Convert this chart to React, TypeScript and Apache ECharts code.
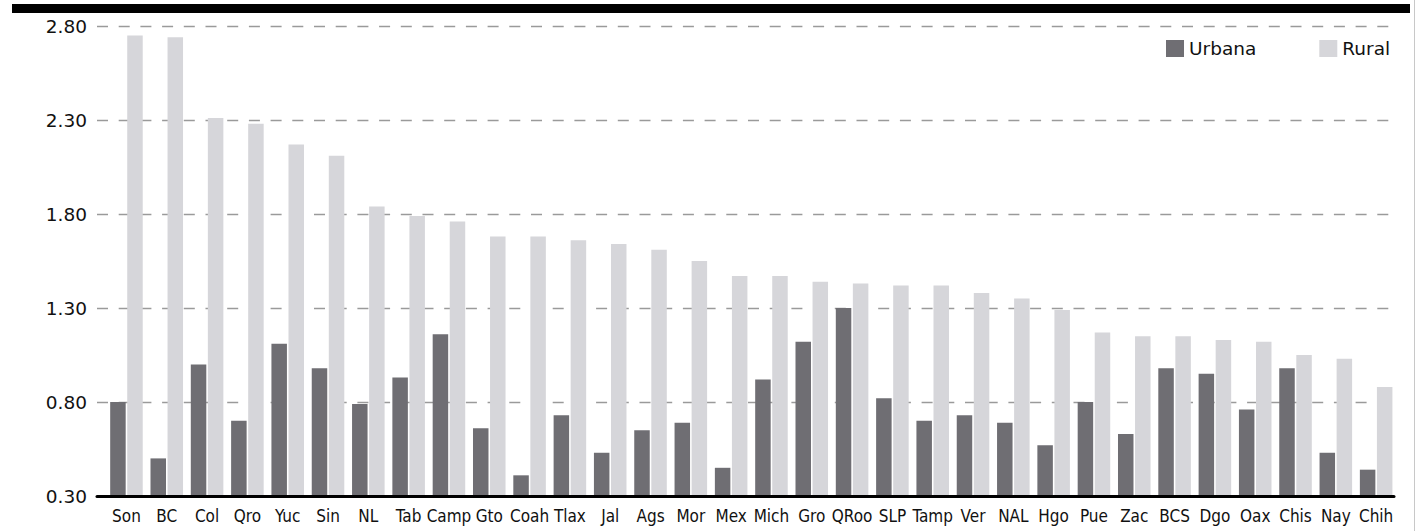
import React, { useEffect, useRef } from "react";
import * as echarts from "echarts";

const categories = ["Son","BC","Col","Qro","Yuc","Sin","NL","Tab","Camp","Gto","Coah","Tlax","Jal","Ags","Mor","Mex","Mich","Gro","QRoo","SLP","Tamp","Ver","NAL","Hgo","Pue","Zac","BCS","Dgo","Oax","Chis","Nay","Chih"];
const urbana = [0.80,0.50,1.00,0.70,1.11,0.98,0.79,0.93,1.16,0.66,0.41,0.73,0.53,0.65,0.69,0.45,0.92,1.12,1.30,0.82,0.70,0.73,0.69,0.57,0.80,0.63,0.98,0.95,0.76,0.98,0.53,0.44];
const rural = [2.75,2.74,2.31,2.28,2.17,2.11,1.84,1.79,1.76,1.68,1.68,1.66,1.64,1.61,1.55,1.47,1.47,1.44,1.43,1.42,1.42,1.38,1.35,1.29,1.17,1.15,1.15,1.13,1.12,1.05,1.03,0.88];
const seriesNames = ["Urbana", "Rural"];
const yMin = 0.3;
const yMax = 2.8;
const yStep = 0.5;

const URB = "#6f6e73";
const RUR = "#d6d6da";

export default function App() {
  const ref = useRef<HTMLDivElement>(null);
  useEffect(() => {
    if (!ref.current) return;
    const chart = echarts.init(ref.current, null, { renderer: "svg" });
    const option: any = {
      animation: false,
      backgroundColor: "#ffffff",
      grid: [
        { left: 106.3, right: 27.7, top: 26, bottom: 35 },
        { left: 97, right: 30, top: 26, bottom: 35 },
      ],
      legend: {
        left: 1166,
        top: 39,
        padding: 0,
        itemWidth: 18,
        itemHeight: 17,
        itemGap: 63,
        icon: "rect",
        data: seriesNames,
        textStyle: { fontFamily: "'DejaVu Sans', sans-serif", fontSize: 18.5, color: "#111", padding: [0, 0, 0, 0] },
      },
      xAxis: [
        {
          type: "category",
          gridIndex: 0,
          data: categories,
          axisLine: { show: false },
          axisTick: { show: false },
          axisLabel: {
            interval: 0,
            margin: 11,
            fontSize: 17,
            color: "#111",
            fontFamily: "'DejaVu Sans Condensed', 'Liberation Sans Narrow', sans-serif",
          },
        },
        {
          type: "category",
          gridIndex: 1,
          data: [""],
          z: 5,
          axisLine: { show: true, lineStyle: { color: "#000", width: 3 } },
          axisTick: { show: false },
          axisLabel: { show: false },
        },
      ],
      yAxis: [
        {
          type: "value",
          gridIndex: 0,
          min: yMin,
          max: yMax,
          show: false,
          splitLine: { show: false },
        },
        {
          type: "value",
          gridIndex: 1,
          min: 0,
          max: yMax - yMin,
          interval: yStep,
          axisLine: { show: false },
          axisTick: { show: false },
          axisLabel: {
            margin: 10,
            fontSize: 18.5,
            color: "#111",
            fontFamily: "'DejaVu Sans', sans-serif",
            formatter: (v: number) => (v + yMin).toFixed(2),
          },
          splitLine: {
            show: true,
            lineStyle: { color: "#9a9a9a", width: 1.3, type: [11, 10.7] },
          },
        },
      ],
      series: [
        {
          name: seriesNames[0],
          type: "bar",
          xAxisIndex: 0,
          yAxisIndex: 0,
          data: urbana,
          barWidth: 15.5,
          barGap: "10%",
          itemStyle: { color: URB },
          clip: true,
        },
        {
          name: seriesNames[1],
          type: "bar",
          xAxisIndex: 0,
          yAxisIndex: 0,
          data: rural,
          barWidth: 15.5,
          barGap: "10%",
          itemStyle: { color: RUR },
          clip: true,
        },
      ],
      graphic: [
        { type: "rect", shape: { x: 12, y: 4, width: 1398, height: 9 }, style: { fill: "#000" } },
        { type: "line", shape: { x1: 1414.5, y1: 0, x2: 1414.5, y2: 531 }, style: { stroke: "#c8c8c8", lineWidth: 1 } },
      ],
    };
    chart.setOption(option);
    return () => chart.dispose();
  }, []);
  return (
    <div
      ref={ref}
      style={{ position: "fixed", left: 0, top: 0, width: 1424, height: 531, background: "#fff" }}
    />
  );
}
